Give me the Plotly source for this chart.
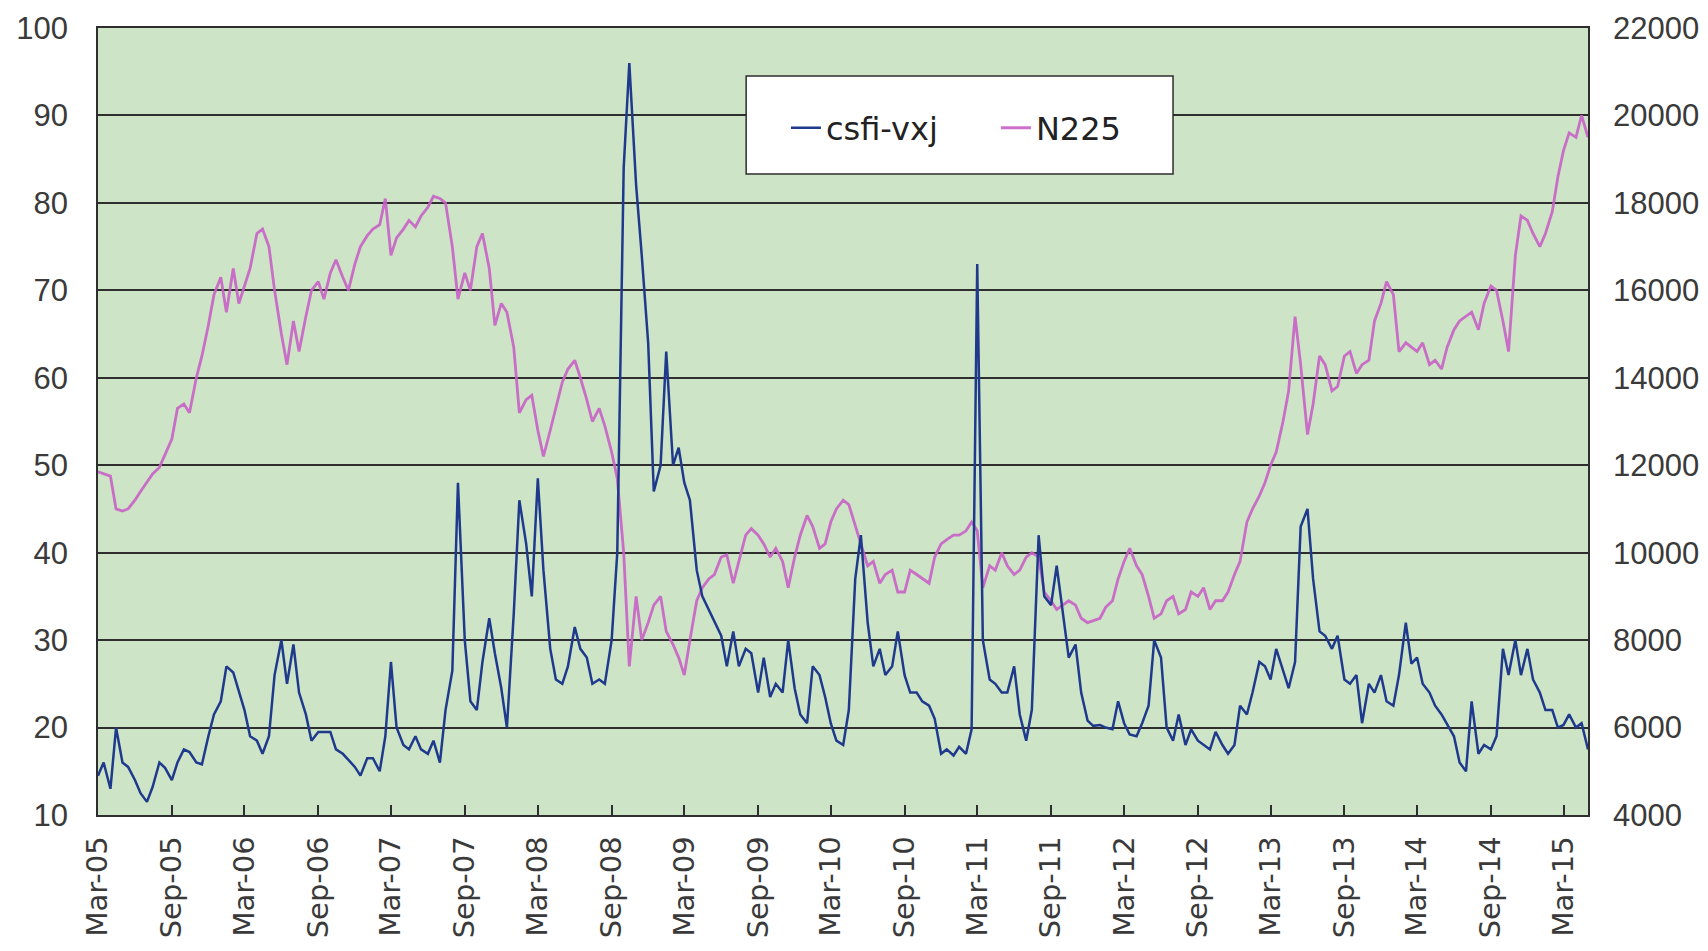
import pandas as pd
import plotly.graph_objects as go

# Semi-monthly samples (1st and 15th) from Mar 2005 to May 2015
vxj = [
    # 2005 Mar-Dec
    14.5, 16, 13, 20, 16, 15.5, 14, 12.5, 11.5, 13.2, 16, 15.4, 14, 16, 17.5, 17.2, 16, 15.8, 19, 21.5,
    # 2006
    23, 27, 26.3, 24, 22, 19, 18.5, 17, 19, 26, 30, 25, 29.5, 24, 21.5, 18.5, 19.5, 19.5, 19.5, 17.5, 17, 16.3, 15.5, 14.5,
    # 2007
    16.5, 16.5, 15, 19, 27.5, 20, 18, 17.5, 19, 17.5, 17, 18.5, 16, 22, 26.5, 48, 30, 23, 22, 27.5, 32.5, 28.5, 24.5, 20,
    # 2008
    33, 46, 41, 35, 48.5, 38, 29, 25.5, 25, 27, 31.5, 29, 28, 25, 25.5, 25, 30, 40, 84, 96, 82, 74, 64, 47,
    # 2009
    50, 63, 50, 52, 48, 46, 38, 35, 33.5, 32, 30.5, 27, 31, 27, 29, 28.5, 24, 28, 23.5, 25, 24, 30, 24.5, 21.5,
    # 2010
    20.5, 27, 26, 23.5, 20.5, 18.5, 18, 22, 37, 42, 32, 27, 29, 26, 27, 31, 26, 24, 24, 23, 22.5, 21, 17, 17.5,
    # 2011
    16.8, 17.8, 17, 19.8, 73, 30, 25.5, 25, 24, 24, 27, 21.5, 18.5, 22, 42, 35, 34, 38.5, 33, 28, 29.5, 24, 20.8, 20.2,
    # 2012
    20.3, 20, 19.8, 23, 20.5, 19.2, 19, 20.5, 22.5, 30, 28, 20, 18.5, 21.5, 18, 19.8, 18.5, 18, 17.5, 19.5, 18, 17, 18, 22.5,
    # 2013
    21.5, 24, 27.5, 27, 25.5, 29, 26.5, 24.5, 27.5, 43, 45, 37, 31, 30.5, 29, 30.5, 25.5, 25, 26, 20.5, 25, 24, 26, 23,
    # 2014
    22.5, 26, 32, 27.3, 28, 25, 24, 22.5, 21.5, 20.3, 19, 16, 15, 23, 17, 18, 17.5, 19, 29, 26, 30, 26, 29, 25.5,
    # 2015 Jan-May 1
    24, 22, 22, 20, 20.3, 21.5, 20, 20.5, 17.5,
]

n225 = [
    # 2005 Mar-Dec
    11850, 11800, 11750, 11000, 10950, 11000, 11200, 11400, 11600, 11800, 11950, 12250, 12600, 13300, 13400, 13200, 14000, 14500, 15200, 15900,
    # 2006
    16300, 15500, 16500, 15700, 16100, 16500, 17300, 17400, 17000, 16000, 15000, 14300, 15300, 14600, 15400, 16000, 16200, 15800, 16400, 16700, 16300, 16000, 16600, 17000,
    # 2007
    17250, 17400, 17500, 18100, 16800, 17200, 17400, 17600, 17450, 17700, 17900, 18150, 18100, 18000, 17000, 15800, 16400, 16000, 17000, 17300, 16500, 15200, 15700, 15500,
    # 2008
    14700, 13200, 13500, 13600, 12800, 12200, 12800, 13300, 13900, 14200, 14400, 14000, 13500, 13000, 13300, 12900, 12300, 11700, 10000, 7400, 9000, 8000, 8400, 8800,
    # 2009
    9000, 8200, 7900, 7600, 7200, 8000, 8900, 9200, 9400, 9500, 9900, 9950, 9300, 9800, 10400, 10550, 10400, 10200, 9900, 10100, 9800, 9200, 9900, 10400,
    # 2010
    10850, 10600, 10100, 10200, 10700, 11000, 11200, 11100, 10600, 10200, 9700, 9800, 9300, 9500, 9600, 9100, 9100, 9600, 9500, 9400, 9300, 9900, 10200, 10300,
    # 2011
    10400, 10400, 10500, 10700, 10500, 9200, 9700, 9600, 10000, 9700, 9500, 9600, 9900, 10000, 9900, 9100, 8900, 8700, 8800, 8900, 8800, 8500, 8400, 8450,
    # 2012
    8500, 8750, 8900, 9400, 9800, 10100, 9700, 9500, 9000, 8500, 8600, 8900, 9000, 8600, 8700, 9100, 9000, 9200, 8700, 8900, 8900, 9100, 9500, 9800,
    # 2013
    10700, 11000, 11300, 11600, 12000, 12300, 13000, 13700, 15400, 14300, 12700, 13400, 14500, 14300, 13700, 13800, 14500, 14600, 14100, 14300, 14400, 15300, 15700, 16200,
    # 2014
    15900, 14600, 14800, 14700, 14600, 14800, 14300, 14400, 14200, 14700, 15100, 15300, 15400, 15500, 15100, 15700, 16100, 16000, 15300, 14600, 16800, 17700, 17600, 17300,
    # 2015 Jan-May 1
    17000, 17300, 17800, 18600, 19200, 19600, 19500, 20000, 19500,
]

dates = pd.date_range(start="2005-03-01", periods=len(vxj), freq="SMS")

tick_dates = [
    "2005-03-01", "2005-09-01", "2006-03-01", "2006-09-01", "2007-03-01", "2007-09-01",
    "2008-03-01", "2008-09-01", "2009-03-01", "2009-09-01", "2010-03-01", "2010-09-01",
    "2011-03-01", "2011-09-01", "2012-03-01", "2012-09-01", "2013-03-01", "2013-09-01",
    "2014-03-01", "2014-09-01", "2015-03-01",
]
tick_labels = [
    "Mar-05", "Sep-05", "Mar-06", "Sep-06", "Mar-07", "Sep-07",
    "Mar-08", "Sep-08", "Mar-09", "Sep-09", "Mar-10", "Sep-10",
    "Mar-11", "Sep-11", "Mar-12", "Sep-12", "Mar-13", "Sep-13",
    "Mar-14", "Sep-14", "Mar-15",
]

NUMFONT = "Liberation Sans, Arial, sans-serif"
WIDEFONT = "DejaVu Sans, Verdana, sans-serif"
TXT = "#3a3a3a"
LINE = "#2e2e2e"

fig = go.Figure()
fig.add_trace(go.Scatter(
    x=dates, y=n225, name="N225", yaxis="y", mode="lines",
    line=dict(color="rgba(200,96,198,0.9)", width=2.8), legendrank=2,
))
fig.add_trace(go.Scatter(
    x=dates, y=vxj, name="csfi-vxj", yaxis="y2", mode="lines",
    line=dict(color="#1f3a8c", width=2.5), legendrank=1,
))

fig.update_layout(
    width=1708, height=951,
    margin=dict(l=98, r=120, t=28, b=136, autoexpand=False),
    paper_bgcolor="white",
    plot_bgcolor="#cde5c6",
    font=dict(family=NUMFONT, color=TXT, size=31),
    xaxis=dict(
        type="date", range=["2005-03-01", "2015-05-01"],
        tickvals=tick_dates, ticktext=tick_labels, tickangle=-90,
        ticks="inside", ticklen=10, tickwidth=1.5, tickcolor=LINE,
        showgrid=False, showline=True, linecolor=LINE, linewidth=1.5, mirror=True,
        tickfont=dict(family=WIDEFONT, size=29, color=TXT), ticklabelstandoff=8,
        automargin=False,
    ),
    yaxis=dict(
        side="right", range=[4000, 22000], tick0=4000, dtick=2000, tickformat="d",
        showgrid=True, gridcolor=LINE, gridwidth=1.5,
        showline=True, linecolor=LINE, linewidth=1.5, mirror=True,
        ticks="", tickfont=dict(size=31, color=TXT), ticklabelstandoff=17,
        zeroline=False, automargin=False,
    ),
    yaxis2=dict(
        overlaying="y", side="left", range=[10, 100], tick0=10, dtick=10,
        showgrid=False, zeroline=False, ticks="",
        tickfont=dict(size=31, color=TXT), ticklabelstandoff=29,
        automargin=False,
    ),
    showlegend=True,
    legend=dict(
        orientation="h", x=0.4617, xanchor="left", y=0.873, yanchor="middle",
        bgcolor="rgba(0,0,0,0)", borderwidth=0,
        font=dict(family=WIDEFONT, size=32, color="#222"), entrywidth=165,
    ),
    shapes=[dict(
        type="rect", xref="paper", yref="paper",
        x0=0.435, x1=0.7215, y0=0.8145, y1=0.939,
        fillcolor="white", line=dict(color=LINE, width=1.5), layer="above",
    )],
)

# remove the browser's default 8px body margin so the 1708x951 figure fills the window
fig.write_html(
    "out.html",
    config={"displayModeBar": False},
    post_script="document.body.style.margin='0';document.body.style.overflow='hidden';",
)
